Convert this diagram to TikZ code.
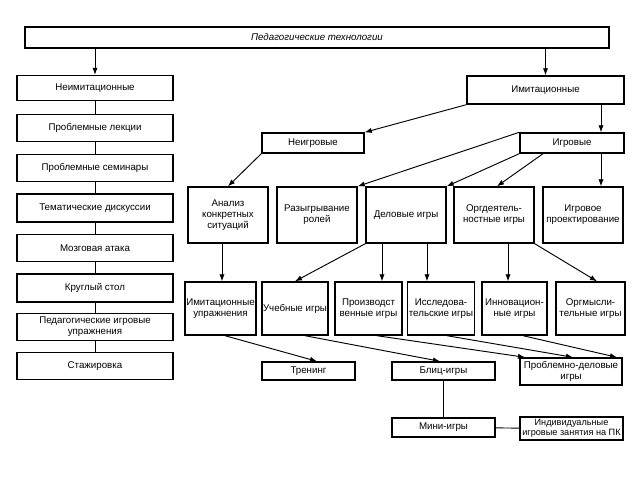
\documentclass[tikz,border=0pt]{standalone}
\usepackage{fontspec}
\setmainfont{Liberation Sans}
\usepackage{tikz}
\usetikzlibrary{shapes,backgrounds,arrows.meta}
\def\pxu{0.03cm}

\begin{document}
\begin{tikzpicture}[x=0.03cm,y=-0.03cm,font=\fontsize{8.3}{9.3}\selectfont,
		tbox/.style 2 args={draw,line width=1.2pt,rectangle,align=center,inner sep=1pt,
			minimum width=#1*\pxu,minimum height=#2*\pxu},
		link/.style={line width=.8pt},
		arr/.style={link,-{Latex[length=6pt,width=4.5pt]}}]
			\useasboundingbox (0,0) rectangle (640,480);
			
			% draw top box
			\node[tbox={584}{21}] (ptech) at (317,37.5) {\textit{Педагогические технологии}};
			
			% draw left column
			\node[tbox={156}{25}] (neimit) at (95,88) {Неимитационные};
			\node[tbox={156}{27}] (plek) at (95,128) {Проблемные лекции};
			\node[tbox={156}{27}] (psem) at (95,168) {Проблемные семинары};
			\node[tbox={156}{28}] (tdisk) at (95,208) {Тематические дискуссии};
			\node[tbox={156}{27}] (mozg) at (95,248) {Мозговая атака};
			\node[tbox={156}{28}] (kstol) at (95,288) {Круглый стол};
			\node[tbox={156}{27}] (pupr) at (95,327) {Педагогические игровые\\упражнения};
			\node[tbox={156}{27}] (stazh) at (95,366) {Стажировка};
			
			\draw[arr] (neimit.north |- ptech.south) -- (neimit.north);
			\draw[link] (neimit) -- (plek);
			\draw[link] (plek) -- (psem);
			\draw[link] (psem) -- (tdisk);
			\draw[link] (tdisk) -- (mozg);
			\draw[link] (mozg) -- (kstol);
			\draw[link] (kstol) -- (pupr);
			\draw[link] (pupr) -- (stazh);
			
			% draw right tree
			\node[tbox={157}{28}] (imit) at (545.5,90) {Имитационные};
			\node[tbox={102}{20}] (neigr) at (313,143) {Неигровые};
			\node[tbox={104}{20}] (igr) at (572,143) {Игровые};
			
			\draw[arr] (imit.north |- ptech.south) -- (imit.north);
			\draw[arr] (imit.south west) -- (neigr.north east);
			\draw[arr] (601,0 |- imit.south) -- (601,0 |- igr.north);
			
			% third row
			\node[tbox={80}{56}] (anal) at (228,215) {Анализ\\конкретных\\ситуаций};
			\node[tbox={80}{56}] (rozygr) at (317,215) {Разыгрывание\\ролей};
			\node[tbox={80}{56}] (delov) at (406,215) {Деловые игры};
			\node[tbox={80}{56}] (orgd) at (494,215) {Оргдеятель-\\ностные игры};
			\node[tbox={80}{56}] (proekt) at (583,215) {Игровое\\проектирование};
			
			\draw[arr] (neigr.south west) -- (anal.north);
			\draw[arr] (igr.north west) -- (rozygr.north east);
			\draw[arr] (igr.south west) -- (delov.north east);
			\draw[arr] (543,0 |- igr.south) -- (497,0 |- orgd.north);
			\draw[arr] (601,0 |- igr.south) -- (601,0 |- proekt.north);
			
			% fourth row
			\node[tbox={65}{53}] (imupr) at (220.5,308.5) {Имитационные\\упражнения};
			\node[tbox={66}{53}] (ucheb) at (295,308.5) {Учебные игры};
			\node[tbox={67}{53}] (proizv) at (368.5,308.5) {Производст\\венные игры};
			\node[tbox={64}{53}] (issl) at (441,308.5) {Исследова-\\тельские игры};
			\node[tbox={65}{53}] (innov) at (514.5,308.5) {Инновацион-\\ные игры};
			\node[tbox={69}{53}] (orgm) at (590.5,308.5) {Оргмысли-\\тельные игры};
			
			\draw[arr] (222,0 |- anal.south) -- (222,0 |- imupr.north);
			\draw[arr] (delov.south west) -- (ucheb.north);
			\draw[arr] (382,0 |- delov.south) -- (382,0 |- proizv.north);
			\draw[arr] (427,0 |- delov.south) -- (427,0 |- issl.north);
			\draw[arr] (508,0 |- orgd.south) -- (508,0 |- innov.north);
			\draw[arr] (orgd.south east) -- (597,0 |- orgm.north);
			
			% fifth row
			\node[tbox={93}{18}] (trening) at (308.5,371) {Тренинг};
			\node[tbox={103}{18}] (blic) at (443.5,371) {Блиц-игры};
			\node[tbox={102}{27}] (probl) at (571,371.5) {Проблемно-деловые\\игры};
			\node[tbox={103}{19}] (mini) at (443.5,427.5) {Мини-игры};
			\node[tbox={103}{23},font=\fontsize{7.8}{8.6}\selectfont] (indiv) at (571.5,428.5) {Индивидуальные\\игровые занятия на ПК};
			
			\draw[arr] (225,0 |- imupr.south) -- (317,0 |- trening.north);
			\draw[arr] (305,0 |- ucheb.south) -- (440,0 |- blic.north);
			\draw[arr] (377,0 |- proizv.south) -- (525,0 |- probl.north);
			\draw[arr] (447,0 |- issl.south) -- (573,0 |- probl.north);
			\draw[arr] (523,0 |- innov.south) -- (617,0 |- probl.north);
			\draw[link] (blic) -- (mini);
			\draw[link] (mini) -- (indiv);
		\end{tikzpicture}
\end{document}
